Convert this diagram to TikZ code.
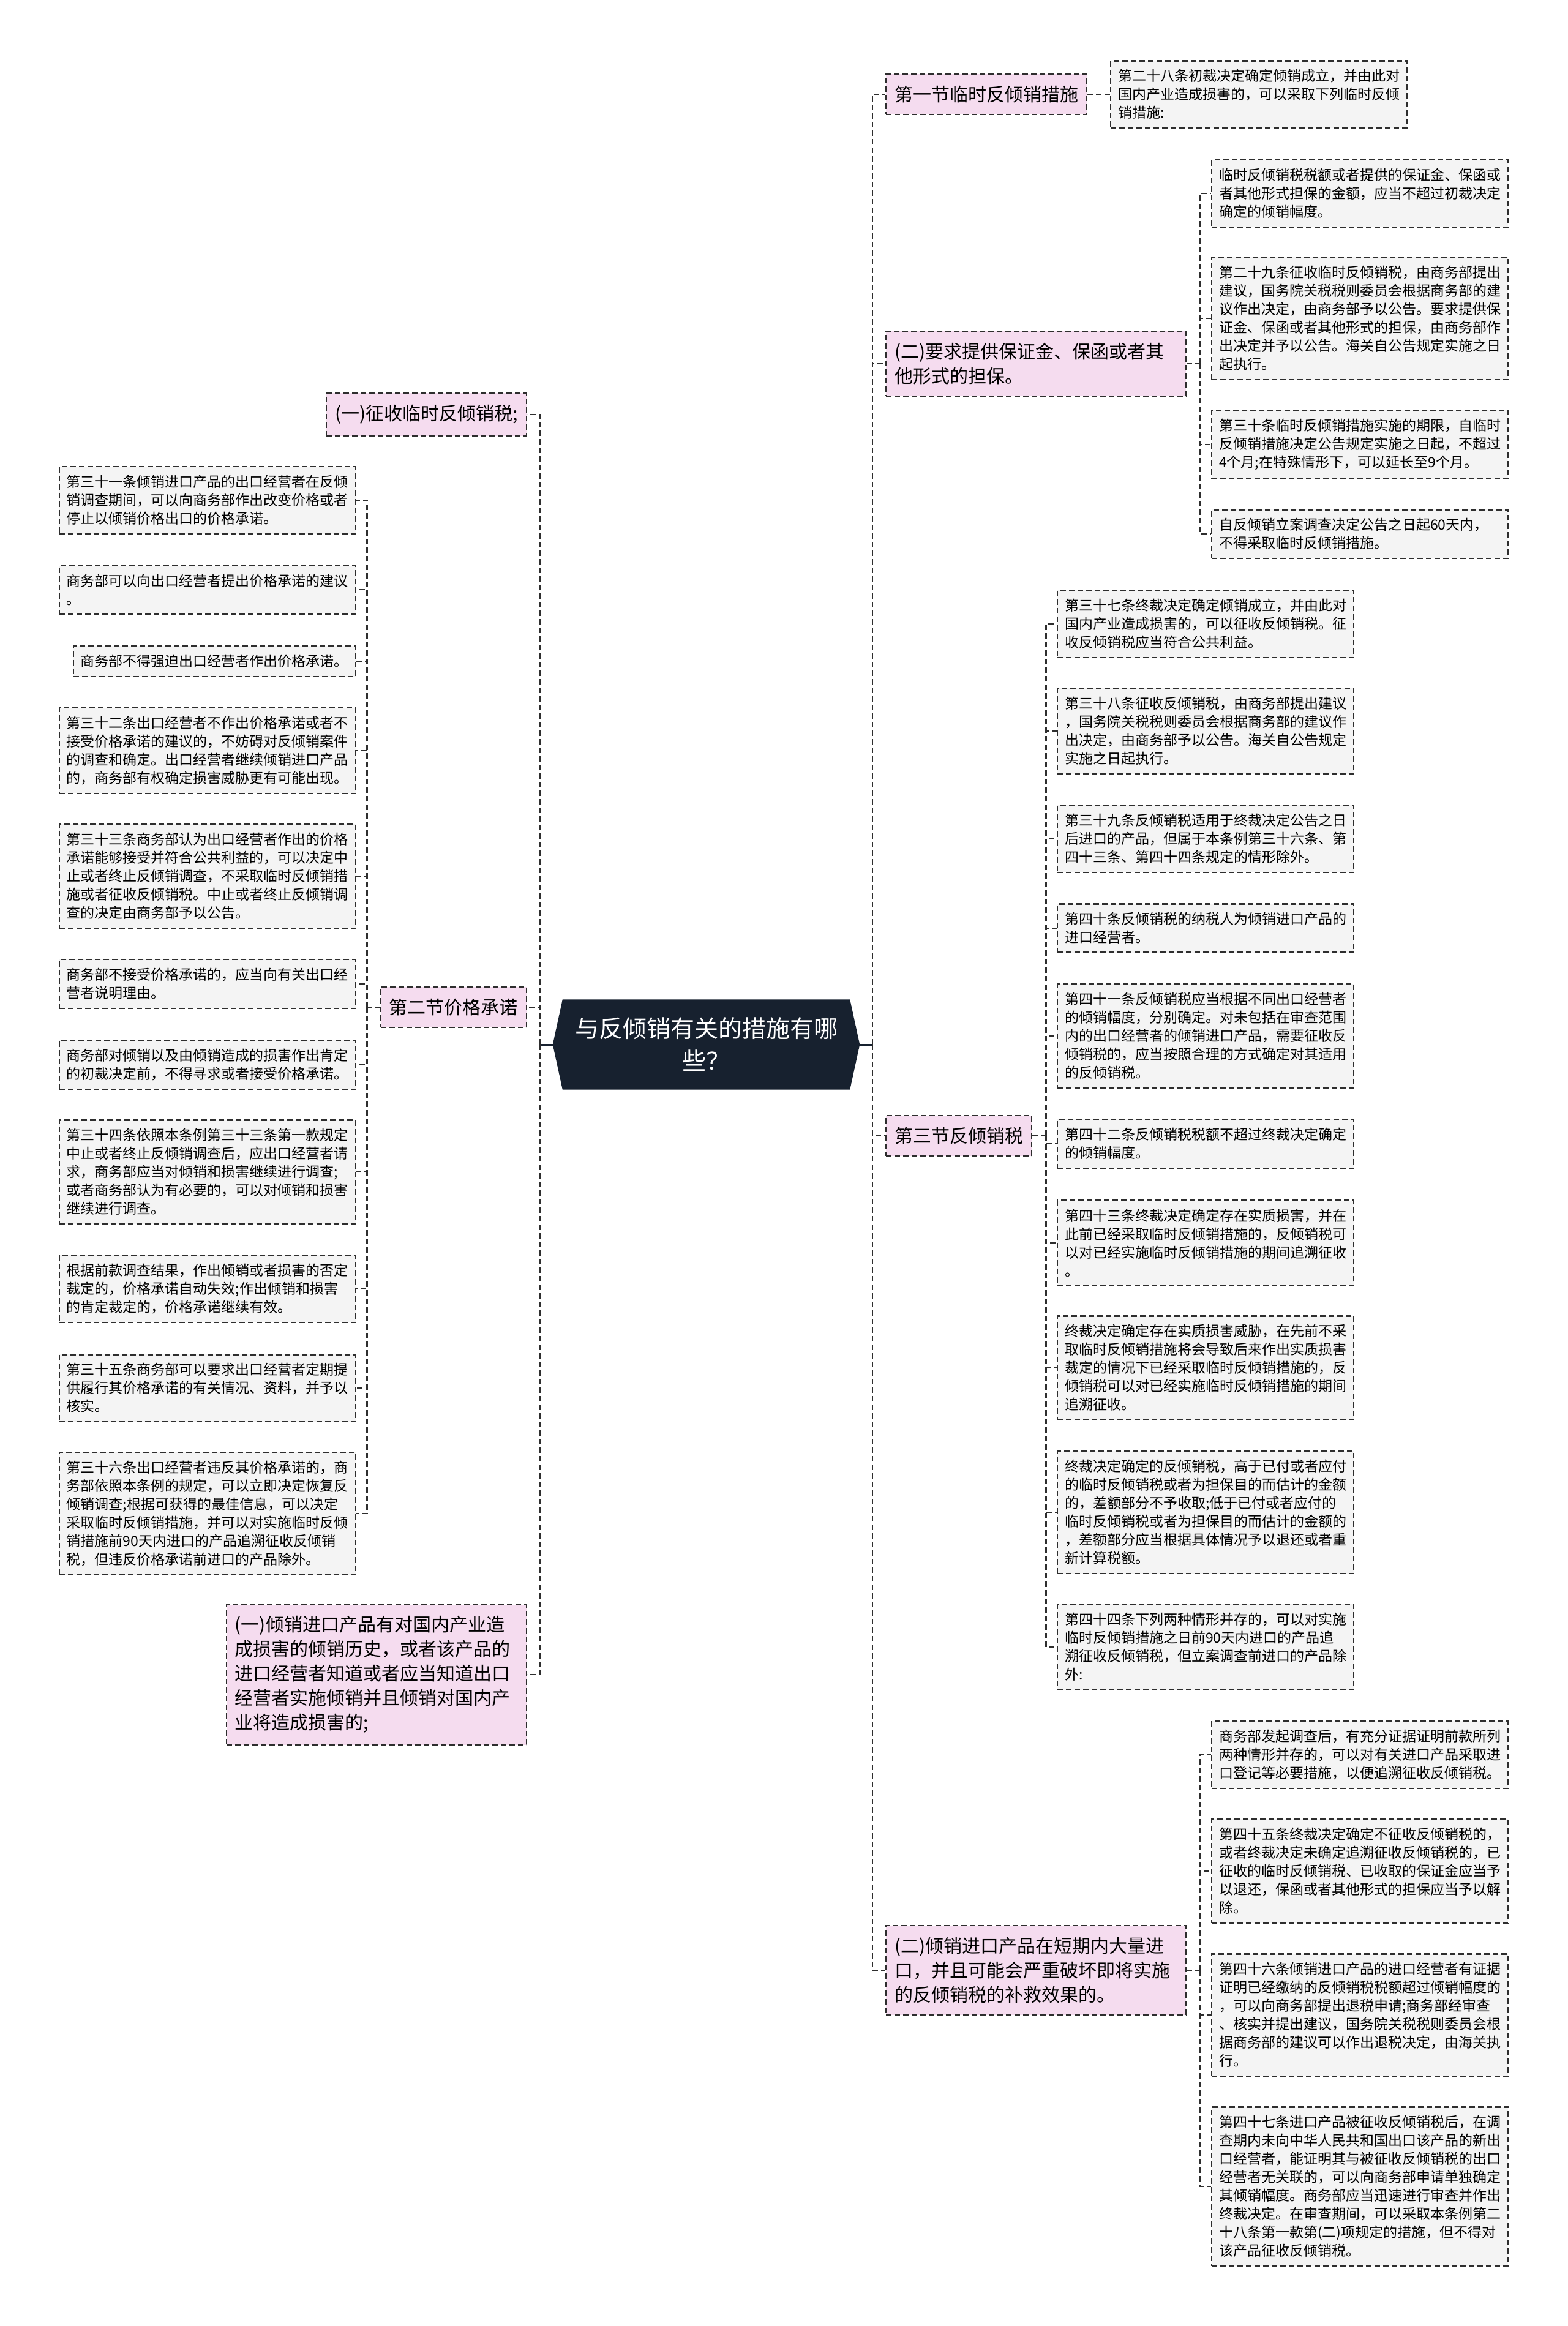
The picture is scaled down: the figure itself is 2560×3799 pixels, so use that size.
\documentclass[tikz,border=0pt]{standalone}
\usepackage{fontspec}
\setmainfont{Noto Sans CJK SC}
\usetikzlibrary{backgrounds}
\definecolor{rootfill}{HTML}{17212F}
\definecolor{pinkfill}{HTML}{F5DCEF}
\definecolor{grayfill}{HTML}{F4F4F4}
\definecolor{linegray}{HTML}{2E2E2E}

\begin{document}
\begin{tikzpicture}[x=1pt,y=-1pt,
	link/.style={draw=linegray,line width=2.4pt,dash pattern=on 9pt off 5pt},
	rootlink/.style={draw=rootfill,line width=3pt},
	section/.style={draw=linegray,fill=pinkfill,line width=2.4pt,dash pattern=on 9pt off 5pt,
		inner xsep=14pt,inner ysep=19pt,align=left,font=\fontsize{30}{40}\selectfont},
	item/.style={draw=linegray,fill=grayfill,line width=2.4pt,dash pattern=on 9pt off 5pt,
		inner xsep=12pt,inner ysep=14pt,text width=460pt,align=left,font=\fontsize{23}{30}\selectfont}]
	\path[use as bounding box] (0,0) rectangle (2560,3799);
	\tikzstyle{root}=[minimum width=501pt,minimum height=147pt,align=center,text=white,font=\fontsize{39}{53}\selectfont]
	\node[root] (root) at (1153.5,1706) {与反倾销有关的措施有哪\\些？};
	\begin{scope}[on background layer]
	\fill[white] (0,0) rectangle (2560,3799);
	\fill[rootfill] (root.west) -- ([xshift=16pt]root.north west) -- ([xshift=-16pt]root.north east)
		-- (root.east) -- ([xshift=-16pt]root.south east) -- ([xshift=16pt]root.south west) -- cycle;
	\end{scope}
	
	% right side
	\node[section,anchor=west] (s1) at (1446,154) {第一节临时反倾销措施};
	\node[item,anchor=west] (r28) at (1813,154) {第二十八条初裁决定确定倾销成立，并由此对\\国内产业造成损害的，可以采取下列临时反倾\\销措施:};
	
	\node[section,anchor=west,text width=462pt] (s2) at (1446,594) {(二)要求提供保证金、保函或者其\\他形式的担保。};
	\node[item,anchor=west] (a1) at (1978,316) {临时反倾销税税额或者提供的保证金、保函或\\者其他形式担保的金额，应当不超过初裁决定\\确定的倾销幅度。};
	\node[item,anchor=west] (a2) at (1978,520) {第二十九条征收临时反倾销税，由商务部提出\\建议，国务院关税税则委员会根据商务部的建\\议作出决定，由商务部予以公告。要求提供保\\证金、保函或者其他形式的担保，由商务部作\\出决定并予以公告。海关自公告规定实施之日\\起执行。};
	\node[item,anchor=west] (a3) at (1978,726) {第三十条临时反倾销措施实施的期限，自临时\\反倾销措施决定公告规定实施之日起，不超过\\4个月;在特殊情形下，可以延长至9个月。};
	\node[item,anchor=west] (a4) at (1978,872) {自反倾销立案调查决定公告之日起60天内，\\不得采取临时反倾销措施。};
	
	\node[section,anchor=west] (s3) at (1446,1855) {第三节反倾销税};
	\node[item,anchor=west] (b1) at (1726,1019) {第三十七条终裁决定确定倾销成立，并由此对\\国内产业造成损害的，可以征收反倾销税。征\\收反倾销税应当符合公共利益。};
	\node[item,anchor=west] (b2) at (1726,1194) {第三十八条征收反倾销税，由商务部提出建议\\，国务院关税税则委员会根据商务部的建议作\\出决定，由商务部予以公告。海关自公告规定\\实施之日起执行。};
	\node[item,anchor=west] (b3) at (1726,1370) {第三十九条反倾销税适用于终裁决定公告之日\\后进口的产品，但属于本条例第三十六条、第\\四十三条、第四十四条规定的情形除外。};
	\node[item,anchor=west] (b4) at (1726,1516) {第四十条反倾销税的纳税人为倾销进口产品的\\进口经营者。};
	\node[item,anchor=west] (b5) at (1726,1692) {第四十一条反倾销税应当根据不同出口经营者\\的倾销幅度，分别确定。对未包括在审查范围\\内的出口经营者的倾销进口产品，需要征收反\\倾销税的，应当按照合理的方式确定对其适用\\的反倾销税。};
	\node[item,anchor=west] (b6) at (1726,1868) {第四十二条反倾销税税额不超过终裁决定确定\\的倾销幅度。};
	\node[item,anchor=west] (b7) at (1726,2030) {第四十三条终裁决定确定存在实质损害，并在\\此前已经采取临时反倾销措施的，反倾销税可\\以对已经实施临时反倾销措施的期间追溯征收\\。};
	\node[item,anchor=west] (b8) at (1726,2234) {终裁决定确定存在实质损害威胁，在先前不采\\取临时反倾销措施将会导致后来作出实质损害\\裁定的情况下已经采取临时反倾销措施的，反\\倾销税可以对已经实施临时反倾销措施的期间\\追溯征收。};
	\node[item,anchor=west] (b9) at (1726,2470) {终裁决定确定的反倾销税，高于已付或者应付\\的临时反倾销税或者为担保目的而估计的金额\\的，差额部分不予收取;低于已付或者应付的\\临时反倾销税或者为担保目的而估计的金额的\\，差额部分应当根据具体情况予以退还或者重\\新计算税额。};
	\node[item,anchor=west] (b10) at (1726,2690) {第四十四条下列两种情形并存的，可以对实施\\临时反倾销措施之日前90天内进口的产品追\\溯征收反倾销税，但立案调查前进口的产品除\\外:};
	
	\node[section,anchor=west,text width=462pt] (s4) at (1446,3218) {(二)倾销进口产品在短期内大量进\\口，并且可能会严重破坏即将实施\\的反倾销税的补救效果的。};
	\node[item,anchor=west] (c1) at (1978,2866) {商务部发起调查后，有充分证据证明前款所列\\两种情形并存的，可以对有关进口产品采取进\\口登记等必要措施，以便追溯征收反倾销税。};
	\node[item,anchor=west] (c2) at (1978,3056) {第四十五条终裁决定确定不征收反倾销税的，\\或者终裁决定未确定追溯征收反倾销税的，已\\征收的临时反倾销税、已收取的保证金应当予\\以退还，保函或者其他形式的担保应当予以解\\除。};
	\node[item,anchor=west] (c3) at (1978,3291) {第四十六条倾销进口产品的进口经营者有证据\\证明已经缴纳的反倾销税税额超过倾销幅度的\\，可以向商务部提出退税申请;商务部经审查\\、核实并提出建议，国务院关税税则委员会根\\据商务部的建议可以作出退税决定，由海关执\\行。};
	\node[item,anchor=west] (c4) at (1978,3571) {第四十七条进口产品被征收反倾销税后，在调\\查期内未向中华人民共和国出口该产品的新出\\口经营者，能证明其与被征收反倾销税的出口\\经营者无关联的，可以向商务部申请单独确定\\其倾销幅度。商务部应当迅速进行审查并作出\\终裁决定。在审查期间，可以采取本条例第二\\十八条第一款第(二)项规定的措施，但不得对\\该产品征收反倾销税。};
	
	% left side
	\node[section,anchor=east] (t1) at (861,677) {(一)征收临时反倾销税;};
	\node[section,anchor=east] (t2) at (861,1645) {第二节价格承诺};
	\node[item,anchor=east] (d1) at (582,817) {第三十一条倾销进口产品的出口经营者在反倾\\销调查期间，可以向商务部作出改变价格或者\\停止以倾销价格出口的价格承诺。};
	\node[item,anchor=east] (d2) at (582,963) {商务部可以向出口经营者提出价格承诺的建议\\。};
	\node[item,anchor=east,text width=437pt] (d3) at (582,1080) {商务部不得强迫出口经营者作出价格承诺。};
	\node[item,anchor=east] (d4) at (582,1226) {第三十二条出口经营者不作出价格承诺或者不\\接受价格承诺的建议的，不妨碍对反倾销案件\\的调查和确定。出口经营者继续倾销进口产品\\的，商务部有权确定损害威胁更有可能出现。};
	\node[item,anchor=east] (d5) at (582,1431) {第三十三条商务部认为出口经营者作出的价格\\承诺能够接受并符合公共利益的，可以决定中\\止或者终止反倾销调查，不采取临时反倾销措\\施或者征收反倾销税。中止或者终止反倾销调\\查的决定由商务部予以公告。};
	\node[item,anchor=east] (d6) at (582,1607) {商务部不接受价格承诺的，应当向有关出口经\\营者说明理由。};
	\node[item,anchor=east] (d7) at (582,1739) {商务部对倾销以及由倾销造成的损害作出肯定\\的初裁决定前，不得寻求或者接受价格承诺。};
	\node[item,anchor=east] (d8) at (582,1914) {第三十四条依照本条例第三十三条第一款规定\\中止或者终止反倾销调查后，应出口经营者请\\求，商务部应当对倾销和损害继续进行调查;\\或者商务部认为有必要的，可以对倾销和损害\\继续进行调查。};
	\node[item,anchor=east] (d9) at (582,2105) {根据前款调查结果，作出倾销或者损害的否定\\裁定的，价格承诺自动失效;作出倾销和损害\\的肯定裁定的，价格承诺继续有效。};
	\node[item,anchor=east] (d10) at (582,2267) {第三十五条商务部可以要求出口经营者定期提\\供履行其价格承诺的有关情况、资料，并予以\\核实。};
	\node[item,anchor=east] (d11) at (582,2472) {第三十六条出口经营者违反其价格承诺的，商\\务部依照本条例的规定，可以立即决定恢复反\\倾销调查;根据可获得的最佳信息，可以决定\\采取临时反倾销措施，并可以对实施临时反倾\\销措施前90天内进口的产品追溯征收反倾销\\税，但违反价格承诺前进口的产品除外。};
	\node[section,anchor=east,text width=462pt] (t3) at (861,2735) {(一)倾销进口产品有对国内产业造\\成损害的倾销历史，或者该产品的\\进口经营者知道或者应当知道出口\\经营者实施倾销并且倾销对国内产\\业将造成损害的;};
	
	% connectors
	\coordinate (lj) at (882,1706);
	\coordinate (rj) at (1425,1706);
	\coordinate (s2j) at ([xshift=22pt]s2.east);
	\coordinate (s3j) at ([xshift=22pt]s3.east);
	\coordinate (s4j) at ([xshift=22pt]s4.east);
	\coordinate (t2j) at ([xshift=-21pt]t2.west);
	
	\draw[rootlink] (root.west) -- (lj);
	\draw[rootlink] (root.east) -- (rj);
	\draw[link] (lj) |- (t1.east) (lj) |- (t2.east) (lj) |- (t3.east);
	\draw[link] (rj) |- (s1.west) (rj) |- (s2.west) (rj) |- (s3.west) (rj) |- (s4.west);
	\draw[link] (s1.east) -- (r28.west);
	\draw[link] (s2.east) -- (s2j) (s2j) |- (a1.west) (s2j) |- (a2.west) (s2j) |- (a3.west) (s2j) |- (a4.west);
	\draw[link] (s3.east) -- (s3j) (s3j) |- (b1.west) (s3j) |- (b2.west) (s3j) |- (b3.west) (s3j) |- (b4.west)
		(s3j) |- (b5.west) (s3j) |- (b6.west) (s3j) |- (b7.west) (s3j) |- (b8.west) (s3j) |- (b9.west) (s3j) |- (b10.west);
	\draw[link] (s4.east) -- (s4j) (s4j) |- (c1.west) (s4j) |- (c2.west) (s4j) |- (c3.west) (s4j) |- (c4.west);
	\draw[link] (t2.west) -- (t2j) (t2j) |- (d1.east) (t2j) |- (d2.east) (t2j) |- (d3.east) (t2j) |- (d4.east)
		(t2j) |- (d5.east) (t2j) |- (d6.east) (t2j) |- (d7.east) (t2j) |- (d8.east) (t2j) |- (d9.east) (t2j) |- (d10.east) (t2j) |- (d11.east);
\end{tikzpicture}
\end{document}
